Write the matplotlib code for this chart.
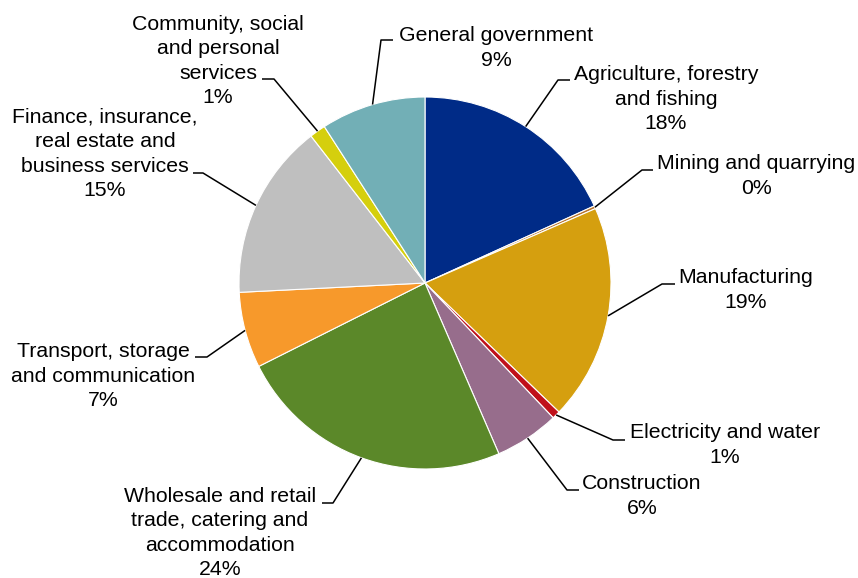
import numpy as np
import matplotlib
matplotlib.use('Agg')
import matplotlib.pyplot as plt

plt.rcParams['font.family'] = ['Liberation Sans', 'DejaVu Sans']

# datos
sectores = ['Agriculture, forestry\nand fishing',
            'Mining and quarrying',
            'Manufacturing',
            'Electricity and water',
            'Construction',
            'Wholesale and retail\ntrade, catering and\naccommodation',
            'Transport, storage\nand communication',
            'Finance, insurance,\nreal estate and\nbusiness services',
            'Community, social\nand personal\nservices',
            'General government']
valores = [18.2, 0.25, 18.75, 0.7, 5.6, 24.1, 6.6, 15.3, 1.4, 9.1]
colores = ['#002B87', '#B8742C', '#D59F0F', '#C0101A', '#976D8C',
           '#5B8829', '#F7992B', '#BFBFBF', '#D5CF0D', '#72AFB6']

# layout de etiquetas en pixeles: centro del texto, codo y final de la linea guia
cx, cy, R = 425, 283, 186
texto_px = [(666, 99), (756, 176), (746, 290), (725, 445), (642, 496),
            (220, 533), (103, 376), (105, 154), (218, 61), (496, 48)]
codo_px = [(558, 80), (642, 170), (662, 284), (613, 440), (567, 490),
           (333, 503), (207, 357), (203, 173), (274, 79), (381, 40)]
fin_px = [(570, 80), (653, 170), (675, 284), (625, 440), (579, 490),
          (322, 503), (195, 357), (193, 173), (262, 79), (393, 40)]


def px(p):
    return ((p[0] - cx) / R, (cy - p[1]) / R)


fig = plt.figure(figsize=(8.58, 5.78), dpi=100)
ax = fig.add_axes([0, 0, 1, 1])

wedges, _ = ax.pie(valores, colors=colores, startangle=90, counterclock=False,
                   radius=1.0, wedgeprops=dict(edgecolor='white', linewidth=0.8))

total = sum(valores)
for i, w in enumerate(wedges):
    ang = np.deg2rad((w.theta1 + w.theta2) / 2)
    inicio = (np.cos(ang), np.sin(ang))
    codo = px(codo_px[i])
    fin = px(fin_px[i])
    ax.plot([inicio[0], codo[0], fin[0]], [inicio[1], codo[1], fin[1]],
            color='black', lw=1.1, solid_capstyle='butt', zorder=1)
    pct = round(valores[i] / total * 100)
    tx, ty = px(texto_px[i])
    ax.text(tx, ty, f'{sectores[i]}\n{pct:.0f}%', ha='center', va='center',
            multialignment='center', fontsize=15.3, linespacing=1.37)

ax.set_xlim(-cx / R, (858 - cx) / R)
ax.set_ylim(-(578 - cy) / R, cy / R)
ax.set_aspect('equal')
ax.axis('off')

fig.savefig('out.png', dpi=100)
